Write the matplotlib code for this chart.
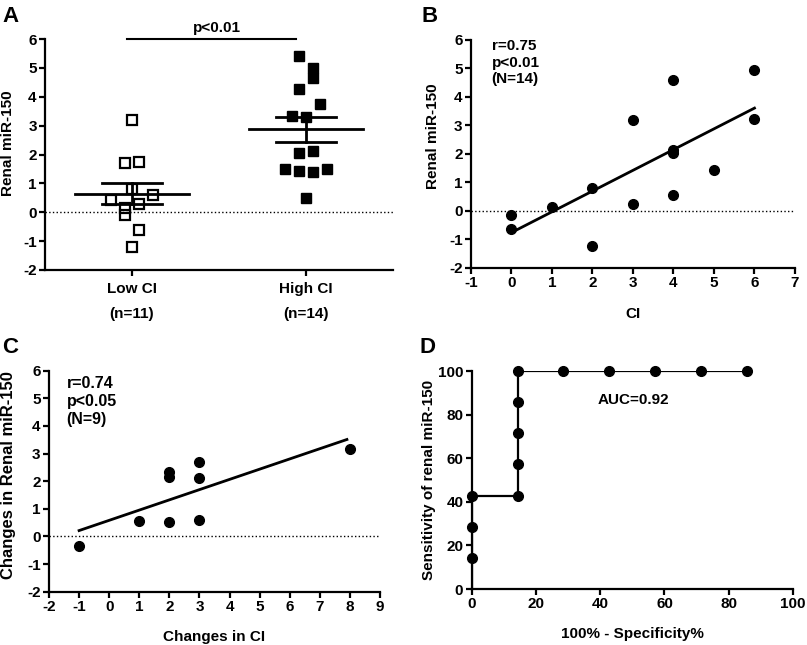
import numpy as np
import matplotlib
matplotlib.use('Agg')
import matplotlib.pyplot as plt

plt.rcParams['font.family'] = ['Liberation Sans', 'DejaVu Sans']
plt.rcParams['font.weight'] = 'bold'
plt.rcParams['axes.labelweight'] = 'bold'
plt.rcParams['font.size'] = 11
plt.rcParams['axes.unicode_minus'] = False

# Panel A: renal miR-150 in low / high CI groups
groups = ["Low CI\n(n=11)", "High CI\n(n=14)"]
low_ci = [3.2, 1.72, 1.75, 0.8, 0.6, 0.43, 0.29, 0.15, -0.1, -0.6, -1.2]
low_jit = [0, -0.04, 0.04, 0, 0.12, -0.12, 0.04, -0.04, -0.04, 0.04, 0]
high_ci = [5.42, 4.99, 4.64, 4.26, 3.74, 3.34, 3.29, 2.04, 2.12, 1.49, 1.43, 1.41, 1.5, 0.51]
high_jit = [-0.04, 0.04, 0.04, -0.04, 0.08, -0.08, 0, -0.04, 0.04, -0.12, -0.04, 0.04, 0.12, 0]

# Panel B: CI vs renal miR-150
ci_b = [0, 0, 1, 2, 2, 3, 3, 4, 4, 4, 4, 5, 6, 6]
mir_b = [-0.15, -0.62, 0.15, 0.81, -1.23, 3.21, 0.26, 4.61, 2.15, 2.04, 0.57, 1.45, 4.96, 3.22]

# Panel C: changes in CI vs changes in renal miR-150
dci_c = [-1, 1, 2, 2, 2, 3, 3, 3, 8]
dmir_c = [-0.34, 0.55, 2.34, 2.16, 0.51, 2.70, 2.11, 0.59, 3.15]

# Panel D: ROC curve
fpr = [0, 0, 0, 0, 14.29, 14.29, 14.29, 14.29, 14.29, 28.57, 42.86, 57.14, 71.43, 85.71]
tpr = [0, 14.29, 28.57, 42.86, 42.86, 57.14, 71.43, 85.71, 100, 100, 100, 100, 100, 100]

fig = plt.figure(figsize=(8.07, 6.45), dpi=100)
axA = fig.add_axes([0.0558, 0.5814, 0.4312, 0.3581])
axB = fig.add_axes([0.5836, 0.5845, 0.4015, 0.3535])
axC = fig.add_axes([0.0607, 0.0826, 0.4102, 0.3427])
axD = fig.add_axes([0.5845, 0.0868, 0.3981, 0.3380])

for ax in [axA, axB, axC, axD]:
    ax.spines['top'].set_visible(False)
    ax.spines['right'].set_visible(False)
    ax.spines['left'].set_linewidth(1.6)
    ax.spines['bottom'].set_linewidth(1.6)
    ax.tick_params(width=1.6, length=4, pad=2, labelsize=11)

# ---- A
axA.axhline(0, color='k', ls=':', lw=1)
axA.plot(np.array(low_jit) + 0, low_ci, 's', ms=6.5, mfc='none', mec='k', mew=1.6)
axA.plot(np.array(high_jit) + 1, high_ci, 's', ms=7.5, mfc='k', mec='k')
for i, vals in enumerate([low_ci, high_ci]):
    m = np.mean(vals)
    sem = np.std(vals, ddof=1) / np.sqrt(len(vals))
    axA.plot([i - 0.33, i + 0.33], [m, m], 'k-', lw=2)
    axA.plot([i - 0.17, i + 0.17], [m + sem, m + sem], 'k-', lw=2)
    axA.plot([i - 0.17, i + 0.17], [m - sem, m - sem], 'k-', lw=2)
    axA.plot([i, i], [m - sem, m + sem], 'k-', lw=2)
axA.set_xlim(-0.5, 1.5)
axA.set_ylim(-2, 6)
axA.set_yticks(range(-2, 7))
axA.set_xticks([0, 1])
axA.set_xticklabels(groups)
plt.setp(axA.get_xticklabels(), linespacing=1.95)
axA.tick_params(axis='x', pad=5)
axA.plot([-0.03, 0.94], [6, 6], 'k-', lw=1.5, clip_on=False)
axA.text(0.49, 6.38, "p<0.01", ha='center', va='center')
axA.set_ylabel("Renal miR-150")
axA.yaxis.set_label_coords(-0.086, 0.55)

# ---- B
axB.axhline(0, color='k', ls=':', lw=1)
axB.plot(ci_b, mir_b, 'o', ms=7, color='k')
k, b = np.polyfit(ci_b, mir_b, 1)
xx = np.array([min(ci_b), max(ci_b)])
axB.plot(xx, k * xx + b, 'k-', lw=2)
axB.set_xlim(-1, 7)
axB.set_ylim(-2, 6)
axB.set_xticks(range(-1, 8))
axB.set_yticks(range(-2, 7))
axB.text(-0.49, 5.2, "r=0.75\np<0.01\n(N=14)", ha='left', va='center', linespacing=1.22)
axB.set_xlabel("CI")
axB.xaxis.set_label_coords(0.5, -0.17)
axB.set_ylabel("Renal miR-150")
axB.yaxis.set_label_coords(-0.096, 0.58)

# ---- C
axC.axhline(0, color='k', ls=':', lw=1)
axC.plot(dci_c, dmir_c, 'o', ms=7, color='k')
k, b = np.polyfit(dci_c, dmir_c, 1)
xx = np.array([min(dci_c), 7.9])
axC.plot(xx, k * xx + b, 'k-', lw=2)
axC.set_xlim(-2, 9)
axC.set_ylim(-2, 6)
axC.set_xticks(range(-2, 10))
axC.set_yticks(range(-2, 7))
axC.text(-1.41, 4.9, "r=0.74\np<0.05\n(N=9)", ha='left', va='center', linespacing=1.25, fontsize=11.5)
axC.set_xlabel("Changes in CI")
axC.xaxis.set_label_coords(0.5, -0.175)
axC.set_ylabel("Changes in Renal miR-150", fontsize=12)
axC.yaxis.set_label_coords(-0.1, 0.53)

# ---- D
axD.plot(fpr, tpr, 'k-', lw=1.6, zorder=2)
axD.plot(fpr[1:], tpr[1:], 'o', ms=7, color='k', clip_on=False, zorder=3)
axD.set_xlim(0, 100)
axD.set_ylim(0, 100)
axD.set_xticks(range(0, 101, 20))
axD.set_yticks(range(0, 101, 20))
axD.text(50.2, 86.7, "AUC=0.92", ha='center', va='center')
axD.set_xlabel("100% - Specificity%")
axD.xaxis.set_label_coords(0.5, -0.175)
axD.set_ylabel("Sensitivity of renal miR-150")
axD.yaxis.set_label_coords(-0.11, 0.5)

for lab, x, y in [("A", 0.003, 0.99), ("B", 0.522, 0.99), ("C", 0.003, 0.478), ("D", 0.52, 0.478)]:
    fig.text(x, y, lab, fontsize=16, fontweight='bold', ha='left', va='top')

plt.savefig("out.png", dpi=100)
